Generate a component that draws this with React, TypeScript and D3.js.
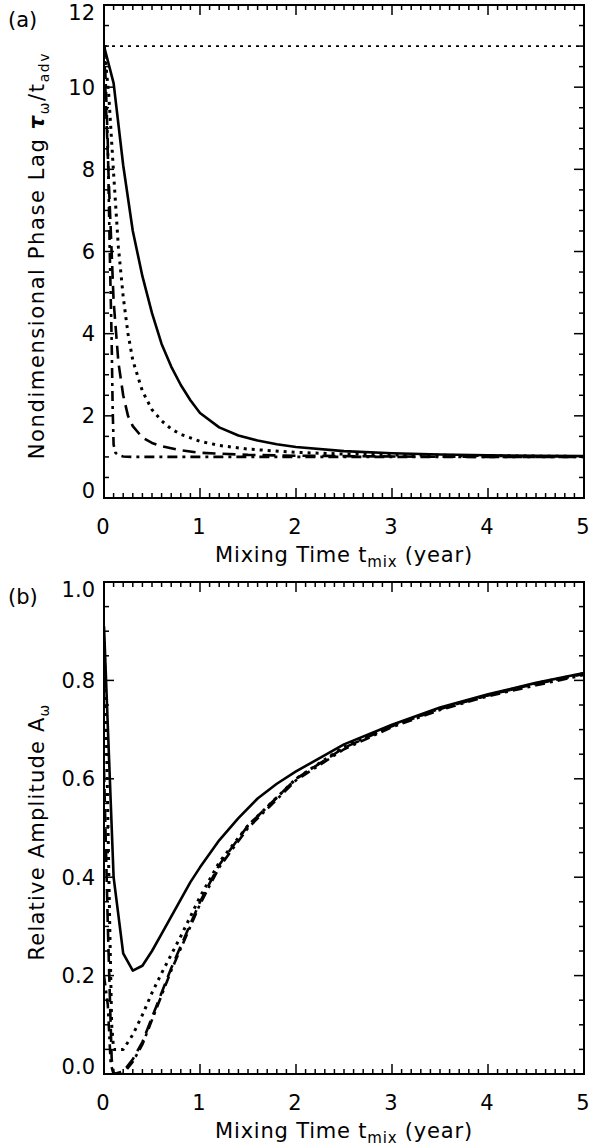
import React, { useEffect, useRef } from 'react';
import * as d3 from 'd3';

const W = 601;
const H = 1147;

// x axis: mixing time (year)
const xTicks = [0, 1, 2, 3, 4, 5];

// panel (a): nondimensional phase lag
const phaseTicks = [0, 2, 4, 6, 8, 10, 12];
const phaseRef = 11; // horizontal dotted reference line

const phaseSolidX = [0, 0.1, 0.2, 0.3, 0.4, 0.5, 0.6, 0.7, 0.8, 0.9, 1.0, 1.2, 1.4, 1.6, 1.8, 2.0, 2.5, 3.0, 3.5, 4.0, 4.5, 5.0];
const phaseSolid = [11.0, 10.1, 8.1, 6.5, 5.4, 4.5, 3.75, 3.2, 2.75, 2.38, 2.07, 1.72, 1.52, 1.4, 1.31, 1.24, 1.14, 1.09, 1.06, 1.04, 1.03, 1.02];

const phaseDotX = [0, 0.05, 0.1, 0.15, 0.2, 0.25, 0.3, 0.4, 0.5, 0.6, 0.7, 0.8, 1.0, 1.2, 1.5, 2.0, 2.5, 3.0, 4.0, 5.0];
const phaseDot = [11.0, 9.8, 7.9, 6.1, 4.9, 4.0, 3.35, 2.6, 2.15, 1.88, 1.68, 1.55, 1.38, 1.28, 1.19, 1.11, 1.07, 1.05, 1.03, 1.01];

const phaseDashX = [0, 0.02, 0.05, 0.1, 0.15, 0.2, 0.25, 0.3, 0.4, 0.5, 0.6, 0.8, 1.0, 1.5, 2.0, 3.0, 4.0, 5.0];
const phaseDash = [11.0, 9.6, 7.7, 4.8, 3.3, 2.5, 2.0, 1.75, 1.47, 1.34, 1.26, 1.16, 1.1, 1.05, 1.03, 1.01, 1.0, 1.0];

const phaseDashDotX = [0, 0.02, 0.04, 0.06, 0.08, 0.09, 0.1, 0.12, 0.15, 0.2, 0.3, 5.0];
const phaseDashDot = [11.0, 10.0, 8.6, 6.0, 3.8, 2.2, 1.3, 1.1, 1.04, 1.01, 1.0, 1.0];

// panel (b): relative amplitude
const ampTicks = [0, 0.2, 0.4, 0.6, 0.8, 1.0];

const ampSolidX = [0, 0.1, 0.2, 0.3, 0.4, 0.5, 0.6, 0.7, 0.8, 0.9, 1.0, 1.2, 1.4, 1.6, 1.8, 2.0, 2.5, 3.0, 3.5, 4.0, 4.5, 5.0];
const ampSolid = [0.91, 0.4, 0.245, 0.21, 0.22, 0.25, 0.285, 0.32, 0.355, 0.39, 0.42, 0.475, 0.52, 0.56, 0.59, 0.615, 0.67, 0.71, 0.745, 0.772, 0.795, 0.815];

const ampDotX = [0, 0.02, 0.04, 0.06, 0.08, 0.1, 0.2, 0.3, 0.4, 0.5, 0.6, 0.8, 1.0, 1.2, 1.5, 2.0, 2.5, 3.0, 3.5, 4.0, 4.5, 5.0];
const ampDot = [0.88, 0.75, 0.52, 0.3, 0.1, 0.05, 0.05, 0.08, 0.12, 0.165, 0.205, 0.28, 0.36, 0.43, 0.505, 0.6, 0.665, 0.708, 0.743, 0.77, 0.794, 0.814];

const ampDashX = [0, 0.04, 0.08, 0.1, 0.2, 0.3, 0.4, 0.5, 0.6, 0.7, 0.8, 1.0, 1.2, 1.5, 2.0, 2.5, 3.0, 3.5, 4.0, 4.5, 5.0];
const ampDash = [0.62, 0.3, 0.03, 0.0, 0.005, 0.03, 0.065, 0.115, 0.165, 0.215, 0.26, 0.35, 0.425, 0.505, 0.6, 0.663, 0.707, 0.742, 0.77, 0.793, 0.813];

const ampDashDotX = [0, 0.04, 0.07, 0.1, 0.2, 0.3, 0.4, 0.5, 0.6, 0.7, 0.8, 1.0, 1.2, 1.5, 2.0, 2.5, 3.0, 3.5, 4.0, 4.5, 5.0];
const ampDashDot = [0.2, 0.14, 0.02, 0.0, 0.0, 0.025, 0.06, 0.11, 0.16, 0.21, 0.255, 0.345, 0.42, 0.5, 0.597, 0.66, 0.705, 0.74, 0.768, 0.79, 0.811];

const DOT = '3,5';
const DASH = '13,7';
const DASHDOT = '10,5,3,5';

const FONT = '"DejaVu Sans", sans-serif';

const App: React.FC = () => {
  const svgRef = useRef<SVGSVGElement>(null);

  useEffect(() => {
    if (!svgRef.current) return;
    const svg = d3.select(svgRef.current);
    svg.selectAll('*').remove();

    const left = 104;
    const right = 584;
    const x = d3.scaleLinear().domain([0, 5]).range([left, right]);

    const drawPanel = (opts: any) => {
      const { top, bottom, yMax, yTicks, yMinorStep, fmt, series, letter, yTitle, id, titleSpacing } = opts;
      const y = d3.scaleLinear().domain([0, yMax]).range([bottom, top]);
      const g = svg.append('g');

      g.append('clipPath').attr('id', id)
        .append('rect').attr('x', left).attr('y', top).attr('width', right - left).attr('height', bottom - top);

      const plot = g.append('g').attr('clip-path', `url(#${id})`);
      const line = d3.line<[number, number]>().x(d => x(d[0])).y(d => y(d[1]));

      series.forEach((s: any) => {
        plot.append('path')
          .datum(s.xs.map((v: number, i: number) => [v, s.ys[i]]))
          .attr('d', line as any)
          .attr('fill', 'none')
          .attr('stroke', '#000')
          .attr('stroke-width', s.w)
          .attr('stroke-dasharray', s.dash)
          .attr('stroke-linejoin', 'round');
      });

      // ticks on all four sides, pointing inward
      const xMinor = d3.range(0, 5.0001, 0.1);
      xMinor.forEach(v => {
        const major = Math.abs(v - Math.round(v)) < 1e-6;
        const len = major ? 10 : 5;
        g.append('line').attr('x1', x(v)).attr('x2', x(v)).attr('y1', bottom).attr('y2', bottom - len)
          .attr('stroke', '#000').attr('stroke-width', 1.5);
        g.append('line').attr('x1', x(v)).attr('x2', x(v)).attr('y1', top).attr('y2', top + len)
          .attr('stroke', '#000').attr('stroke-width', 1.5);
      });
      const yMinor = d3.range(0, yMax + 1e-6, yMinorStep);
      const majorStep = yTicks[1] - yTicks[0];
      yMinor.forEach(v => {
        const r = v / majorStep;
        const major = Math.abs(r - Math.round(r)) < 1e-6;
        const len = major ? 10 : 5;
        g.append('line').attr('x1', left).attr('x2', left + len).attr('y1', y(v)).attr('y2', y(v))
          .attr('stroke', '#000').attr('stroke-width', 1.5);
        g.append('line').attr('x1', right).attr('x2', right - len).attr('y1', y(v)).attr('y2', y(v))
          .attr('stroke', '#000').attr('stroke-width', 1.5);
      });

      g.append('rect').attr('x', left).attr('y', top).attr('width', right - left).attr('height', bottom - top)
        .attr('fill', 'none').attr('stroke', '#000').attr('stroke-width', 2);

      // tick labels
      xTicks.forEach(v => {
        g.append('text').attr('x', x(v) - 1).attr('y', bottom + 36)
          .attr('text-anchor', 'middle').attr('font-family', FONT).attr('font-size', 21)
          .text(String(v));
      });
      yTicks.forEach((v: number) => {
        const c = Math.max(top + 7.5, Math.min(bottom - 7.5, y(v)));
        g.append('text').attr('x', 95).attr('y', c + 7.5)
          .attr('text-anchor', 'end').attr('font-family', FONT).attr('font-size', 21)
          .text(fmt(v));
      });

      // x title
      const xt = g.append('text').attr('x', (left + right) / 2).attr('y', bottom + 64)
        .attr('text-anchor', 'middle').attr('font-family', FONT).attr('font-size', 21)
        .attr('letter-spacing', 0.8);
      xt.append('tspan').text('Mixing Time t');
      xt.append('tspan').attr('font-size', 15).attr('dy', 5).text('mix');
      xt.append('tspan').attr('dy', -5).text(' (year)');

      // y title
      const yt = g.append('text')
        .attr('transform', `translate(44,${(top + bottom) / 2 + 4}) rotate(-90)`)
        .attr('text-anchor', 'middle').attr('font-family', FONT).attr('font-size', 21)
        .attr('letter-spacing', titleSpacing);
      yTitle(yt);

      g.append('text').attr('x', 8).attr('y', top + 22)
        .attr('font-family', FONT).attr('font-size', 21).text(letter);

      return y;
    };

    drawPanel({
      id: 'clipA', top: 5, bottom: 498, yMax: 12, yTicks: phaseTicks, yMinorStep: 0.5,
      fmt: (v: number) => String(v), letter: '(a)', titleSpacing: 1.6,
      series: [
        { xs: phaseSolidX, ys: phaseSolid, dash: null, w: 2.6 },
        { xs: phaseDotX, ys: phaseDot, dash: DOT, w: 3 },
        { xs: phaseDashX, ys: phaseDash, dash: DASH, w: 2.6 },
        { xs: phaseDashDotX, ys: phaseDashDot, dash: DASHDOT, w: 2.6 },
        { xs: [0, 5], ys: [phaseRef, phaseRef], dash: '3,5', w: 1.8 },
      ],
      yTitle: (t: any) => {
        t.append('tspan').text('Nondimensional Phase Lag ');
        t.append('tspan').attr('font-style', 'italic').attr('font-weight', 'bold').text('τ');
        t.append('tspan').attr('font-size', 14).attr('dy', 5).text('ω');
        t.append('tspan').attr('dy', -5).text('/t');
        t.append('tspan').attr('font-size', 14).attr('dy', 5).text('adv');
      },
    });

    drawPanel({
      id: 'clipB', top: 582, bottom: 1074, yMax: 1.0, yTicks: ampTicks, yMinorStep: 0.05,
      fmt: (v: number) => v.toFixed(1), letter: '(b)', titleSpacing: 1.2,
      series: [
        { xs: ampSolidX, ys: ampSolid, dash: null, w: 2.6 },
        { xs: ampDotX, ys: ampDot, dash: DOT, w: 3 },
        { xs: ampDashX, ys: ampDash, dash: DASH, w: 2.6 },
        { xs: ampDashDotX, ys: ampDashDot, dash: DASHDOT, w: 2.6 },
      ],
      yTitle: (t: any) => {
        t.append('tspan').text('Relative Amplitude A');
        t.append('tspan').attr('font-size', 14).attr('dy', 5).text('ω');
      },
    });
  }, []);

  return (
    <svg
      ref={svgRef}
      width={W}
      height={H}
      style={{ position: 'absolute', left: 0, top: 0, background: '#fff' }}
    />
  );
};

export default App;
